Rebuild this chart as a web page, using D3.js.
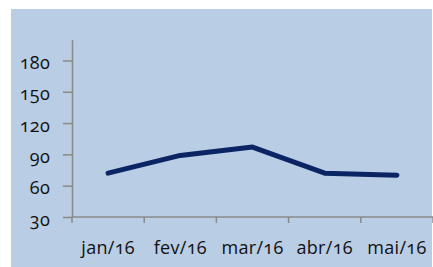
<!DOCTYPE html>
<html>
<head>
<meta charset="utf-8">
<script src="https://cdn.jsdelivr.net/npm/d3@7"></script>
<style>
  body { margin: 0; background: #fff; }
  text { font-family: "Open Sans", sans-serif; font-size: 18px; fill: #111; font-variant-numeric: oldstyle-nums; letter-spacing: 0.3px; }
</style>
</head>
<body>
<div id="chart"></div>
<script>
var categories = ['jan/16', 'fev/16', 'mar/16', 'abr/16', 'mai/16'];
var values = [72, 89, 97, 72, 70];
var yTicks = [30, 60, 90, 120, 150, 180];

var width = 433, height = 267;

var svg = d3.select('#chart').append('svg')
    .attr('width', width)
    .attr('height', height);

// plot background
svg.append('rect')
    .attr('x', 11).attr('y', 9)
    .attr('width', 421).attr('height', 258)
    .attr('fill', '#b9cde4');

var x = d3.scaleBand().domain(categories).range([72, 433]).padding(0);
var y = d3.scaleLinear().domain([30, 200]).range([217, 39.6]);

// y axis
var yAxis = svg.append('g')
    .attr('transform', 'translate(72,0)')
    .call(d3.axisLeft(y).tickValues(yTicks).tickSize(9).tickSizeOuter(0).tickPadding(13));
yAxis.select('.domain').attr('stroke', '#8a8a8a').attr('stroke-width', 1.5);
yAxis.selectAll('.tick line').attr('stroke', '#8a8a8a').attr('stroke-width', 1.5);
yAxis.selectAll('.tick text').attr('dy', '0.45em');

// x axis: baseline + ticks at band edges
var xg = svg.append('g');
xg.append('line')
    .attr('x1', 72).attr('x2', 433)
    .attr('y1', y(30)).attr('y2', y(30))
    .attr('stroke', '#8a8a8a').attr('stroke-width', 1.5);
xg.selectAll('.xt').data(categories.concat([null]))
  .enter().append('line')
    .attr('class', 'xt')
    .attr('x1', function(d, i) { return x.range()[0] + i * x.step(); })
    .attr('x2', function(d, i) { return x.range()[0] + i * x.step(); })
    .attr('y1', y(30)).attr('y2', y(30) + 6)
    .attr('stroke', '#8a8a8a').attr('stroke-width', 1.5);
xg.selectAll('.xl').data(categories)
  .enter().append('text')
    .attr('class', 'xl')
    .attr('x', function(d) { return x(d) + x.bandwidth() / 2; })
    .attr('y', 254)
    .attr('text-anchor', 'middle')
    .text(function(d) { return d; });

// series line
var line = d3.line()
    .x(function(d, i) { return x(categories[i]) + x.bandwidth() / 2; })
    .y(function(d) { return y(d); });

svg.append('path')
    .datum(values)
    .attr('d', line)
    .attr('fill', 'none')
    .attr('stroke', '#0b2463')
    .attr('stroke-width', 5)
    .attr('stroke-linecap', 'round')
    .attr('stroke-linejoin', 'round');
</script>
</body>
</html>
